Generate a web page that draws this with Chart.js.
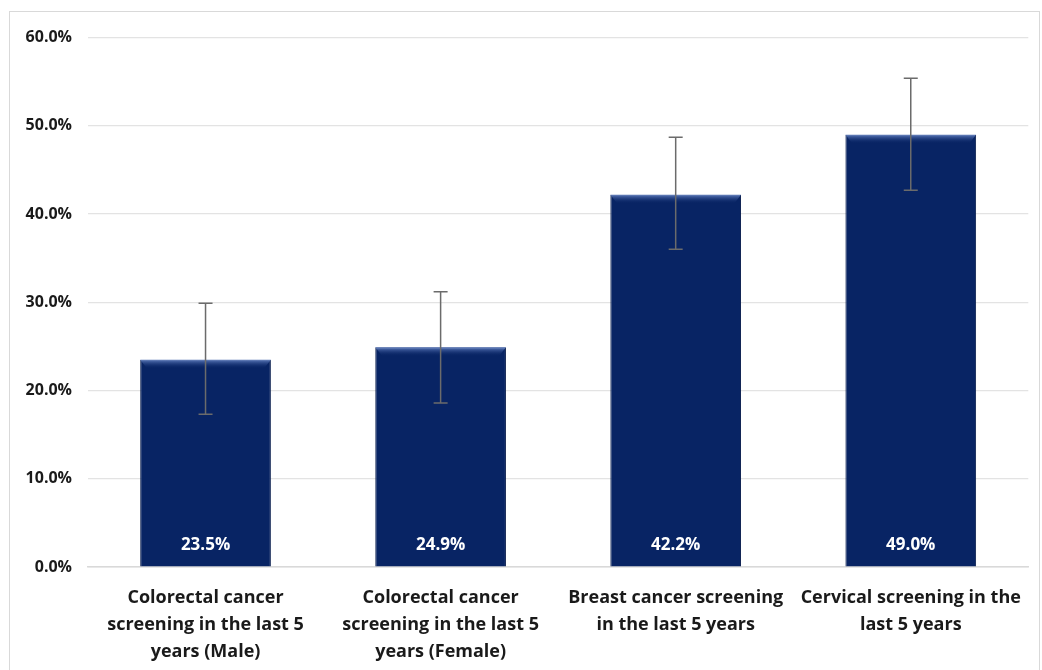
<!DOCTYPE html>
<html>
<head>
<meta charset="utf-8">
<script src="https://cdn.jsdelivr.net/npm/chart.js@4"></script>
<style>
  html, body { margin: 0; padding: 0; background: #fff; overflow: hidden; }
  #box { position: absolute; left: 9px; top: 11px; width: 1029px; height: 670px; border: 1px solid #d9d9d9; }
  #wrap { position: relative; width: 1029px; height: 658px; }
</style>
</head>
<body>
<div id="box"><div id="wrap"><canvas id="myChart"></canvas></div></div>
<script>
// chart values
const categories = [
    ['Colorectal cancer', 'screening in the last 5', 'years (Male)'],
    ['Colorectal cancer', 'screening in the last 5', 'years (Female)'],
    ['Breast cancer screening', 'in the last 5 years'],
    ['Cervical screening in the', 'last 5 years']
];
const values = [23.5, 24.9, 42.2, 49.0];
const errLow = [17.3, 18.6, 36.0, 42.7];
const errHigh = [29.9, 31.2, 48.7, 55.4];
const yTicks = [0, 10, 20, 30, 40, 50, 60];

const barColor = '#082464';
const fontFamily = '"Open Sans", Lato, sans-serif';

// error bars drawn through the y scale
const errorBars = {
    id: 'errorBars',
    afterDatasetsDraw(chart) {
        const ctx = chart.ctx;
        const y = chart.scales.y;
        const meta = chart.getDatasetMeta(0);
        ctx.save();
        ctx.strokeStyle = '#6b6b6b';
        ctx.lineWidth = 1.5;
        meta.data.forEach(function(bar, i) {
            const top = y.getPixelForValue(errHigh[i]);
            const bot = y.getPixelForValue(errLow[i]);
            ctx.beginPath();
            ctx.moveTo(bar.x, top); ctx.lineTo(bar.x, bot);
            ctx.moveTo(bar.x - 7, top); ctx.lineTo(bar.x + 7, top);
            ctx.moveTo(bar.x - 7, bot); ctx.lineTo(bar.x + 7, bot);
            ctx.stroke();
        });
        ctx.restore();
    }
};

// bevel highlight at the top of each bar plus value labels
const barDecor = {
    id: 'barDecor',
    afterDatasetsDraw(chart) {
        const ctx = chart.ctx;
        const meta = chart.getDatasetMeta(0);
        ctx.save();
        meta.data.forEach(function(bar, i) {
            const left = bar.x - bar.width / 2;
            const right = bar.x + bar.width / 2;
            const g = ctx.createLinearGradient(0, bar.y, 0, bar.y + 9);
            g.addColorStop(0, 'rgba(110,140,205,0.85)');
            g.addColorStop(1, 'rgba(8,36,100,0)');
            ctx.fillStyle = g;
            ctx.beginPath();
            ctx.moveTo(left, bar.y);
            ctx.lineTo(right, bar.y);
            ctx.lineTo(right - 7, bar.y + 9);
            ctx.lineTo(left + 7, bar.y + 9);
            ctx.closePath();
            ctx.fill();

            ctx.fillStyle = '#ffffff';
            ctx.font = 'bold 17px ' + fontFamily;
            ctx.textAlign = 'center';
            ctx.textBaseline = 'middle';
            ctx.fillText(values[i].toFixed(1) + '%', bar.x, bar.base - 21);
        });
        ctx.restore();
    }
};

function initializeChart() {
    const ctx = document.getElementById('myChart').getContext('2d');
    new Chart(ctx, {
        type: 'bar',
        data: {
            labels: categories,
            datasets: [{
                data: values,
                backgroundColor: barColor,
                borderColor: '#0b1f4f',
                borderWidth: 1,
                barPercentage: 0.556,
                categoryPercentage: 1.0
            }]
        },
        plugins: [barDecor, errorBars],
        options: {
            responsive: true,
            maintainAspectRatio: false,
            animation: false,
            layout: { padding: { left: 0, right: 9, top: 22, bottom: 0 } },
            plugins: {
                legend: { display: false },
                tooltip: { enabled: false }
            },
            scales: {
                x: {
                    grid: { display: false, drawTicks: false },
                    border: { display: true, color: '#d9d9d9', width: 1.5 },
                    ticks: {
                        color: '#1a1a1a',
                        padding: 17,
                        maxRotation: 0,
                        autoSkip: false,
                        font: { family: fontFamily, size: 18, weight: 'bold', lineHeight: 1.5 }
                    },
                    afterFit(axis) { axis.height = 103; }
                },
                y: {
                    min: 0,
                    max: 60,
                    afterBuildTicks(axis) { axis.ticks = yTicks.map(v => ({ value: v })); },
                    grid: { color: '#e3e3e3', lineWidth: 1.2, drawTicks: false },
                    border: { display: false },
                    ticks: {
                        color: '#1a1a1a',
                        padding: 16,
                        font: { family: fontFamily, size: 16, weight: 'bold' },
                        callback: v => v.toFixed(1) + '%'
                    },
                    afterFit(axis) { axis.width = 78; }
                }
            }
        }
    });
}

initializeChart();
</script>
</body>
</html>
